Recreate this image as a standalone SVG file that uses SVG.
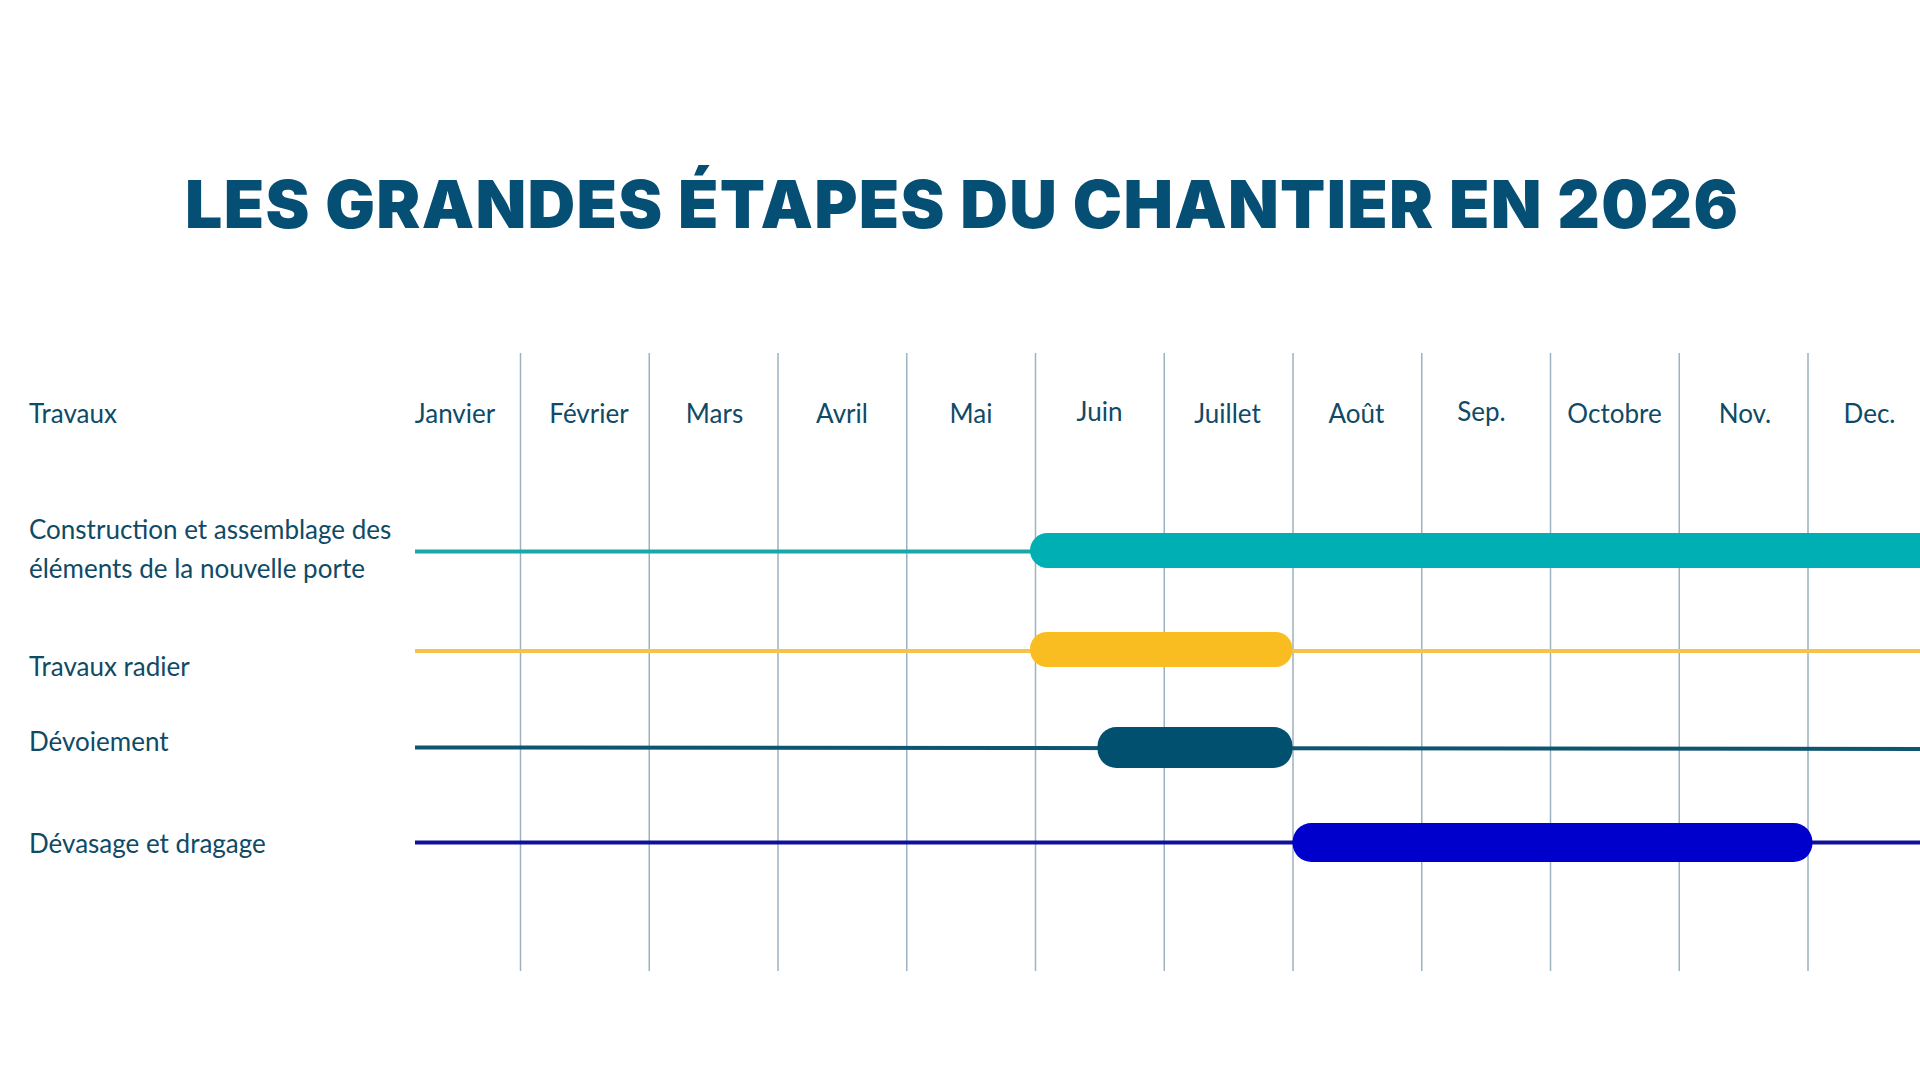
<svg xmlns="http://www.w3.org/2000/svg" width="1920" height="1080" viewBox="0 0 1920 1080">
<style>
.title{font-family:Inter,"Lato","Liberation Sans",sans-serif;font-weight:900;font-size:66px;fill:#054e74}
.lbl{font-family:Lato,"Liberation Sans",sans-serif;font-size:26px;fill:#0f4a66}
.mon{font-family:Lato,"Liberation Sans",sans-serif;font-size:26px;fill:#0f4a66;text-anchor:middle}
.grid line{stroke:#9db2c0;stroke-width:1.5}
</style>
<rect width="1920" height="1080" fill="#ffffff"/>
<g id="title">
<text class="title" x="185" y="228" textLength="1553" lengthAdjust="spacing">LES GRANDES ÉTAPES DU CHANTIER EN 2026</text>
</g>
<g id="grid" class="grid">
<line x1="520.5" y1="353" x2="520.5" y2="971"/>
<line x1="649.25" y1="353" x2="649.25" y2="971"/>
<line x1="778" y1="353" x2="778" y2="971"/>
<line x1="906.75" y1="353" x2="906.75" y2="971"/>
<line x1="1035.5" y1="353" x2="1035.5" y2="971"/>
<line x1="1164.25" y1="353" x2="1164.25" y2="971"/>
<line x1="1293" y1="353" x2="1293" y2="971"/>
<line x1="1421.75" y1="353" x2="1421.75" y2="971"/>
<line x1="1550.5" y1="353" x2="1550.5" y2="971"/>
<line x1="1679.25" y1="353" x2="1679.25" y2="971"/>
<line x1="1808" y1="353" x2="1808" y2="971"/>
</g>
<g id="header">
<text class="lbl" x="29" y="422.5">Travaux</text>
<text class="mon" x="455" y="422.5">Janvier</text>
<text class="mon" x="589" y="422.5">Février</text>
<text class="mon" x="714.5" y="422.5">Mars</text>
<text class="mon" x="842" y="422.5">Avril</text>
<text class="mon" x="971" y="422.5">Mai</text>
<text class="mon" x="1099.5" y="420.5">Juin</text>
<text class="mon" x="1227.5" y="422.5">Juillet</text>
<text class="mon" x="1356.5" y="422.5">Août</text>
<text class="mon" x="1481.5" y="420.5">Sep.</text>
<text class="mon" x="1614.5" y="422.5">Octobre</text>
<text class="mon" x="1745" y="422.5">Nov.</text>
<text class="mon" x="1869.5" y="422.5">Dec.</text>
</g>
<g id="row-construction">
<text class="lbl" x="29" y="538.5">Construction et assemblage des</text>
<text class="lbl" x="29" y="578">éléments de la nouvelle porte</text>
<line x1="415" y1="551.5" x2="1040" y2="551.5" stroke="#1aa7aa" stroke-width="4"/>
<rect x="1030" y="533" width="940" height="35" rx="17.5" fill="#00afb3"/>
</g>
<g id="row-radier">
<text class="lbl" x="29" y="675.5">Travaux radier</text>
<line x1="415" y1="651" x2="1920" y2="651" stroke="#f5c24a" stroke-width="4"/>
<rect x="1030" y="632" width="262.5" height="35" rx="17" fill="#f9bd22"/>
</g>
<g id="row-devoiement">
<text class="lbl" x="29" y="751">Dévoiement</text>
<line x1="415" y1="747.5" x2="1920" y2="749" stroke="#0f5470" stroke-width="4"/>
<rect x="1097.5" y="727" width="195" height="41" rx="19" fill="#02506f"/>
</g>
<g id="row-devasage">
<text class="lbl" x="29" y="852.5">Dévasage et dragage</text>
<line x1="415" y1="842.5" x2="1920" y2="842.5" stroke="#10109a" stroke-width="4"/>
<rect x="1292.5" y="823" width="520" height="39" rx="19" fill="#0000cc"/>
</g>
</svg>
